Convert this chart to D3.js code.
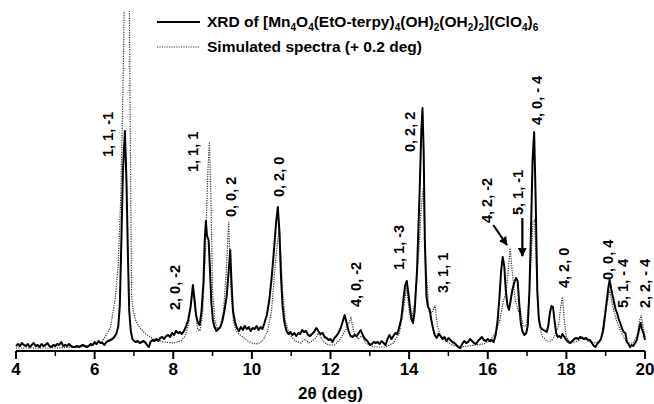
<!DOCTYPE html>
<html>
<head>
<meta charset="utf-8">
<script src="https://cdn.jsdelivr.net/npm/d3@7"></script>
<style>
  body { margin: 0; background: #fff; }
  text { font-family: "Liberation Sans", Arial, sans-serif; font-weight: bold; }
</style>
</head>
<body>
<script>
"use strict"

// measured XRD pattern, [2theta, intensity a.u.]
var xrdPoints = [
  [4.0,5],[4.05,7],[4.1,5],[4.15,8],[4.2,6],[4.25,5],[4.3,7],[4.35,4],[4.4,6],[4.45,8],
  [4.5,5],[4.55,6],[4.6,4],[4.65,7],[4.7,5],[4.75,6],[4.8,8],[4.85,5],[4.9,4],[4.95,6],
  [5.0,5],[5.05,7],[5.1,6],[5.15,9],[5.2,5],[5.25,6],[5.3,5],[5.35,7],[5.4,5],[5.45,4],
  [5.5,4],[5.55,5],[5.6,4],[5.65,5],[5.7,6],[5.75,5],[5.8,4],[5.85,5],[5.9,7],[5.95,6],
  [6.0,9],[6.05,7],[6.1,10],[6.15,8],[6.2,8],[6.25,6],[6.3,9],[6.35,10],[6.4,11],[6.45,12],
  [6.5,14],[6.55,17],[6.6,24],[6.64,45],[6.68,110],[6.72,180],[6.77,220],[6.81,170],[6.85,90],[6.88,40],
  [6.92,20],[6.96,12],[7.0,10],[7.05,9],[7.1,10],[7.15,8],[7.2,9],[7.25,10],[7.3,8],[7.35,5],
  [7.38,4],[7.42,9],[7.47,11],[7.52,10],[7.57,12],[7.62,10],[7.67,13],[7.72,14],[7.77,12],[7.82,15],
  [7.87,16],[7.92,14],[7.97,18],[8.02,16],[8.07,20],[8.12,18],[8.17,19],[8.22,17],[8.27,20],[8.32,24],
  [8.38,31],[8.44,44],[8.5,66],[8.54,52],[8.58,36],[8.63,28],[8.67,26],[8.72,40],[8.77,70],[8.8,110],
  [8.83,130],[8.86,115],[8.9,111],[8.93,85],[8.97,48],[9.01,30],[9.05,24],[9.1,20],[9.15,22],[9.2,24],
  [9.25,30],[9.3,40],[9.36,55],[9.42,85],[9.45,101],[9.48,70],[9.52,40],[9.57,29],[9.62,23],[9.67,20],
  [9.72,24],[9.77,21],[9.82,25],[9.87,22],[9.92,24],[9.97,20],[10.02,23],[10.07,22],[10.12,25],[10.17,21],
  [10.22,24],[10.27,22],[10.32,28],[10.38,36],[10.44,50],[10.5,72],[10.56,100],[10.62,130],[10.66,144],[10.7,120],
  [10.74,75],[10.78,45],[10.83,28],[10.88,20],[10.93,17],[10.98,19],[11.03,16],[11.08,18],[11.13,15],[11.18,18],
  [11.23,17],[11.28,21],[11.33,19],[11.38,20],[11.43,16],[11.48,15],[11.53,17],[11.58,19],[11.64,23],[11.69,20],
  [11.74,17],[11.8,18],[11.85,14],[11.9,13],[11.95,11],[12.0,12],[12.05,9],[12.1,13],[12.15,15],[12.2,18],
  [12.25,22],[12.3,28],[12.36,36],[12.41,28],[12.46,20],[12.51,15],[12.56,14],[12.61,16],[12.67,15],[12.72,18],
  [12.77,21],[12.82,16],[12.88,12],[12.94,10],[13.0,6],[13.05,7],[13.1,9],[13.15,8],[13.2,9],[13.25,7],
  [13.3,10],[13.35,8],[13.4,6],[13.45,12],[13.5,16],[13.55,12],[13.6,15],[13.65,18],[13.7,17],[13.75,24],
  [13.8,32],[13.85,50],[13.9,66],[13.94,70],[13.98,58],[14.02,44],[14.06,32],[14.1,28],[14.14,40],[14.2,80],
  [14.26,150],[14.31,220],[14.34,243],[14.37,200],[14.4,110],[14.44,55],[14.48,44],[14.52,42],[14.56,32],[14.6,24],
  [14.65,16],[14.7,13],[14.75,17],[14.8,15],[14.85,12],[14.9,14],[14.95,10],[15.0,13],[15.05,11],[15.1,9],
  [15.15,8],[15.2,6],[15.25,4],[15.3,3],[15.35,7],[15.4,10],[15.45,8],[15.5,9],[15.55,12],[15.6,10],
  [15.65,8],[15.7,7],[15.75,10],[15.8,12],[15.85,14],[15.9,11],[15.95,10],[16.0,12],[16.05,10],[16.1,11],
  [16.15,9],[16.2,16],[16.25,30],[16.3,55],[16.34,80],[16.38,94],[16.42,85],[16.46,60],[16.5,46],[16.54,41],
  [16.58,50],[16.62,60],[16.67,68],[16.72,73],[16.76,70],[16.8,48],[16.84,28],[16.88,20],[16.93,16],[16.98,18],
  [17.02,26],[17.06,60],[17.1,120],[17.14,190],[17.18,219],[17.22,150],[17.26,60],[17.3,32],[17.34,24],[17.38,22],
  [17.42,21],[17.46,20],[17.5,19],[17.54,25],[17.58,38],[17.62,45],[17.66,44],[17.7,30],[17.74,18],[17.78,14],
  [17.82,15],[17.86,13],[17.9,17],[17.95,14],[18.0,11],[18.05,9],[18.1,8],[18.15,10],[18.2,12],[18.25,13],
  [18.3,12],[18.35,14],[18.4,13],[18.45,12],[18.5,13],[18.55,11],[18.6,11],[18.65,8],[18.7,5],[18.74,4],
  [18.78,7],[18.83,9],[18.88,12],[18.93,20],[18.98,35],[19.03,51],[19.07,64],[19.1,71],[19.14,62],[19.2,51],
  [19.25,42],[19.29,38],[19.33,32],[19.37,28],[19.42,22],[19.46,19],[19.5,18],[19.54,9],[19.58,7],[19.62,4],
  [19.66,6],[19.7,5],[19.75,8],[19.79,11],[19.83,18],[19.86,24],[19.89,28],[19.92,22],[19.96,18],[20.0,11]
];

// simulated pattern (+0.2 deg), [2theta, intensity a.u.]
var simPoints = [
  [4.0,3],[4.5,3],[5.0,3],[5.5,4],[5.9,5],[6.2,10],[6.4,23],[6.52,51],[6.6,85],[6.67,160],
  [6.72,260],[6.75,339],[6.81,520],[6.885,339],[6.91,200],[6.94,55],[6.98,40],[7.05,30],[7.15,23],[7.3,17],
  [7.5,12],[7.75,9],[8.0,8],[8.2,10],[8.3,15],[8.38,25],[8.45,45],[8.5,61],[8.56,40],[8.62,22],
  [8.68,20],[8.75,40],[8.82,100],[8.88,180],[8.92,209],[8.96,150],[9.0,60],[9.06,30],[9.12,22],[9.2,25],
  [9.28,40],[9.35,80],[9.41,129],[9.47,60],[9.53,30],[9.6,20],[9.7,16],[9.8,13],[9.9,10],[10.0,8],
  [10.1,7],[10.2,8],[10.3,12],[10.4,20],[10.5,40],[10.6,90],[10.7,125],[10.78,60],[10.85,30],[10.95,17],
  [11.1,10],[11.25,8],[11.35,12],[11.45,8],[11.6,12],[11.7,18],[11.8,10],[11.95,6],[12.1,6],[12.25,12],
  [12.4,22],[12.52,33],[12.6,18],[12.7,12],[12.8,15],[12.9,8],[13.1,4],[13.4,4],[13.6,8],[13.75,18],
  [13.85,40],[13.94,64],[14.0,40],[14.06,30],[14.15,50],[14.25,100],[14.3,140],[14.36,163],[14.42,90],[14.5,40],
  [14.58,38],[14.66,46],[14.72,25],[14.8,15],[14.95,10],[15.1,6],[15.3,4],[15.5,5],[15.7,6],[15.9,7],
  [16.05,10],[16.2,18],[16.3,30],[16.4,50],[16.47,60],[16.52,80],[16.57,103],[16.62,80],[16.7,50],[16.78,40],
  [16.82,43],[16.9,25],[16.98,25],[17.05,50],[17.1,90],[17.15,130],[17.19,131],[17.25,70],[17.3,30],[17.38,15],
  [17.5,10],[17.62,10],[17.7,15],[17.8,25],[17.86,45],[17.9,54],[17.95,30],[18.0,14],[18.1,8],[18.3,10],
  [18.4,14],[18.55,10],[18.7,8],[18.85,10],[18.95,20],[19.02,45],[19.1,61],[19.18,45],[19.28,30],[19.38,20],
  [19.48,12],[19.58,8],[19.7,8],[19.8,15],[19.86,30],[19.9,36],[19.96,22],[20.0,14]
];

// peak assignments: label, 2theta of label, intensity where label starts
var peakNames = ["1, 1, -1", "2, 0, -2", "1, 1, 1", "0, 0, 2", "0, 2, 0", "4, 0, -2", "1, 1, -3", "0, 2, 2",
                 "3, 1, 1", "4, 2, -2", "5, 1, -1", "4, 0, - 4", "4, 2, 0", "0, 0, 4", "5, 1, - 4", "2, 2, - 4"];
var peakAngles = [6.34, 8.05, 8.50, 9.47, 10.69, 12.65, 13.74, 14.02, 14.86, 15.98, 16.77, 17.25, 17.94, 19.06, 19.44, 20.0];
var peakLevels = [194, 41, 179, 134, 154, 44, 81, 199, 58, 128, 136, 226, 63, 71, 43, 43];

// arrows [from 2theta, from level, to 2theta, to level]
var arrows = [[16.14, 126, 16.49, 106], [16.88, 133, 16.88, 95]];

var xTicks = [4, 6, 8, 10, 12, 14, 16, 18, 20];
var xMinor = [5, 7, 9, 11, 13, 15, 17, 19];

var width = 654, height = 404;

var svg = d3.select("body").append("svg")
    .attr("width", width)
    .attr("height", height);

var x = d3.scaleLinear().domain([4, 20]).range([16, 645]);
var y = d3.scaleLinear().domain([0, 340]).range([351, 11]);

svg.append("defs").append("clipPath")
    .attr("id", "plotclip")
  .append("rect")
    .attr("x", 0).attr("y", 11)
    .attr("width", width).attr("height", 340);

svg.append("defs").append("marker")
    .attr("id", "arrowhead")
    .attr("viewBox", "0 0 10 10")
    .attr("refX", 9).attr("refY", 5)
    .attr("markerWidth", 4).attr("markerHeight", 4)
    .attr("orient", "auto")
  .append("path")
    .attr("d", "M0,0 L10,5 L0,10 z")
    .attr("fill", "#000");

var line = d3.line()
    .x(function(d) { return x(d[0]); })
    .y(function(d) { return y(d[1]); });

var plot = svg.append("g").attr("clip-path", "url(#plotclip)");

plot.append("path")
    .datum(simPoints)
    .attr("fill", "none")
    .attr("stroke", "#333")
    .attr("stroke-width", 1.2)
    .attr("stroke-dasharray", "1.2,1.2")
    .attr("d", line);

plot.append("path")
    .datum(xrdPoints)
    .attr("fill", "none")
    .attr("stroke", "#000")
    .attr("stroke-width", 2)
    .attr("stroke-linejoin", "round")
    .attr("d", line);

// x axis
var axis = svg.append("g")
    .attr("transform", "translate(0," + y(0) + ")");
axis.append("line")
    .attr("x1", x(4)).attr("x2", x(20))
    .attr("stroke", "#000").attr("stroke-width", 2);
axis.selectAll(".major").data(xTicks).enter().append("line")
    .attr("x1", function(d) { return x(d); }).attr("x2", function(d) { return x(d); })
    .attr("y1", 0).attr("y2", 8)
    .attr("stroke", "#000").attr("stroke-width", 2);
axis.selectAll(".minor").data(xMinor).enter().append("line")
    .attr("x1", function(d) { return x(d); }).attr("x2", function(d) { return x(d); })
    .attr("y1", 0).attr("y2", 5)
    .attr("stroke", "#000").attr("stroke-width", 1.5);
axis.selectAll(".lbl").data(xTicks).enter().append("text")
    .attr("x", function(d) { return x(d); })
    .attr("y", 24)
    .attr("text-anchor", "middle")
    .attr("font-size", "17px")
    .text(function(d) { return d; });

svg.append("text")
    .attr("x", x(12))
    .attr("y", 399)
    .attr("text-anchor", "middle")
    .attr("font-size", "17px")
    .text("2\u03b8 (deg)");

// peak labels
peakNames.forEach(function(name, i) {
    var px = x(peakAngles[i]) + 5, py = y(peakLevels[i]);
    svg.append("text")
        .attr("transform", "translate(" + px + "," + py + ") rotate(-90)")
        .attr("font-size", "14.5px")
        .text(name);
});

arrows.forEach(function(a) {
    svg.append("line")
        .attr("x1", x(a[0])).attr("y1", y(a[1]))
        .attr("x2", x(a[2])).attr("y2", y(a[3]))
        .attr("stroke", "#000").attr("stroke-width", 2.2)
        .attr("marker-end", "url(#arrowhead)");
});

// legend
var legend = svg.append("g");
legend.append("line")
    .attr("x1", 157).attr("x2", 200).attr("y1", 22).attr("y2", 22)
    .attr("stroke", "#000").attr("stroke-width", 2);
legend.append("line")
    .attr("x1", 157).attr("x2", 200).attr("y1", 47).attr("y2", 47)
    .attr("stroke", "#333").attr("stroke-width", 1.2).attr("stroke-dasharray", "1.2,1.2");

var t1 = legend.append("text").attr("x", 207).attr("y", 27).attr("font-size", "15.5px");
var parts = [["XRD of [Mn", 0], ["4", 1], ["O", 0], ["4", 1], ["(EtO-terpy)", 0], ["4", 1], ["(OH)", 0], ["2", 1],
             ["(OH", 0], ["2", 1], [")", 0], ["2", 1], ["](ClO", 0], ["4", 1], [")", 0], ["6", 1]];
var prevSub = 0;
parts.forEach(function(p) {
    var dy = (p[1] - prevSub) * 4;
    t1.append("tspan")
        .attr("dy", dy)
        .attr("font-size", p[1] ? "10px" : "15.5px")
        .text(p[0]);
    prevSub = p[1];
});

legend.append("text")
    .attr("x", 207).attr("y", 52)
    .attr("font-size", "15.5px")
    .text("Simulated spectra (+ 0.2 deg)");
</script>
</body>
</html>
